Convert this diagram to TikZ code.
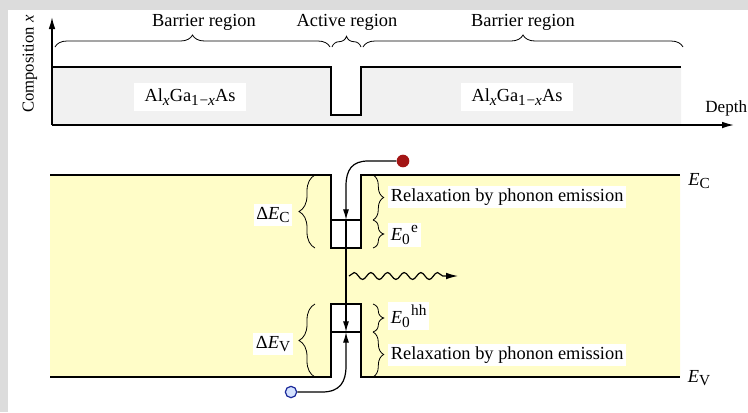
\documentclass[tikz,border=0pt]{standalone}
\usepackage{fontspec}
\setmainfont{Liberation Serif}
\usetikzlibrary{decorations.pathreplacing,decorations.pathmorphing,arrows.meta}
\definecolor{bordergray}{HTML}{DCDCDC}
\definecolor{topfill}{HTML}{F1F1F1}
\definecolor{bandfill}{HTML}{FFFDC8}
\definecolor{elecred}{HTML}{A31515}
\definecolor{holeblue}{HTML}{1C2A9A}
\definecolor{holefill}{HTML}{D4E2FF}
\newcommand{\sbs}[1]{\raisebox{-0.45ex}{\fontsize{11.5}{11}\selectfont #1}}
\newcommand{\sps}[1]{\raisebox{1.0ex}{\fontsize{11.5}{11}\selectfont\kern1pt #1}}
\begin{document}
\begin{tikzpicture}[x=0.75pt,y=-0.75pt,
  font=\fontsize{13.8}{16}\selectfont,
  band/.style={line width=1.1pt},
  axis/.style={line width=1.1pt,-{Latex[length=9pt,width=5pt]}},
  brc/.style={line width=0.6pt,decorate,decoration={brace,amplitude=#1}},
  brc/.default=8pt,
  lbl/.style={fill=white,inner sep=2pt},
  carrier/.style={line width=0.9pt,-{Latex[length=8pt,width=4.5pt]}}]
\useasboundingbox (0,0) rectangle (748,412);
\fill[bordergray] (0,0) rectangle (748,412);
\fill[white] (8,10) rectangle (748,412);

% ---------- top panel ----------
\fill[topfill] (52,67) -- (331,67) -- (331,115) -- (361,115) -- (361,67) -- (681,67) -- (681,125) -- (52,125) -- cycle;
\draw[band] (52,67) -- (331,67) -- (331,115) -- (361,115) -- (361,67) -- (681,67);
\coordinate (origin) at (52,125);
\coordinate (ytip) at (52,17);
\coordinate (xtip) at (734,125);
\draw[axis] (origin) -- (ytip);
\draw[axis] (origin) -- (xtip);
\node[rotate=90,font=\fontsize{12.5}{14}\selectfont] (comp) at (30,64) {Composition \textit{x}};
\node[anchor=east,font=\fontsize{12.8}{15}\selectfont,inner xsep=0.5pt] (depth) at (748,108) {Depth};

\draw[brc=9pt] (55,47) -- (330,47);
\draw[brc=8pt] (332,47) -- (361,47);
\draw[brc=9pt] (363,47) -- (683,47);
\node[anchor=base] (bar1) at (204,26) {Barrier region};
\node[anchor=base] (act) at (347,26) {Active region};
\node[anchor=base] (bar2) at (523,26) {Barrier region};

\node[lbl,inner xsep=8pt,inner ysep=4pt] (mat1) at (190,97) {Al\sbs{\textit{x}}Ga\sbs{1\kern0.5pt−\textit{x}}As};
\node[lbl,inner xsep=8pt,inner ysep=4pt] (mat2) at (517,97) {Al\sbs{\textit{x}}Ga\sbs{1\kern0.5pt−\textit{x}}As};

% ---------- bottom panel ----------
\fill[bandfill] (50,175) -- (331,175) -- (331,248) -- (361,248) -- (361,175) -- (680,175)
  -- (680,377) -- (361,377) -- (361,304) -- (331,304) -- (331,377) -- (50,377) -- cycle;
\draw[band] (50,175) -- (331,175) -- (331,248) -- (361,248) -- (361,175) -- (680,175);
\draw[band] (50,377) -- (331,377) -- (331,304) -- (361,304) -- (361,377) -- (680,377);
\draw[band] (331,220) -- (361,220);
\draw[band] (331,332) -- (361,332);
\coordinate (elev) at (346,220);
\coordinate (hlev) at (346,332);

\node (EC) at (699,181) {\textit{E}\sbs{C}};
\node (EV) at (699,378) {\textit{E}\sbs{V}};

% braces
\draw[brc=12pt] (315,248) -- (315,175);
\draw[brc=12pt] (315,377) -- (315,304);
\draw[brc=8pt] (373,175) -- (373,220);
\draw[brc=8pt] (373,220) -- (373,248);
\draw[brc=8pt] (373,304) -- (373,332);
\draw[brc=8pt] (373,332) -- (373,377);

\node[lbl] (dEC) at (273,215) {Δ\textit{E}\sbs{C}};
\node[lbl] (dEV) at (273,344) {Δ\textit{E}\sbs{V}};
\node[lbl,anchor=west] (relc) at (388,197) {Relaxation by phonon emission};
\node[lbl,anchor=west] (e0e) at (388,235) {\textit{E}\sbs{0}\sps{e}};
\node[lbl,anchor=west] (e0h) at (388,316) {\textit{E}\sbs{0}\sps{hh}};
\node[lbl,anchor=west] (relv) at (388,355) {Relaxation by phonon emission};

% carriers
\node[circle,fill=elecred,inner sep=0pt,minimum size=9.5pt] (el) at (403,161) {};
\node[circle,draw=holeblue,fill=holefill,line width=0.9pt,inner sep=0pt,minimum size=8.5pt] (ho) at (291,392) {};
\draw[carrier] (el.west) -- (368,161) .. controls (352,161) and (346,170) .. (346,186) -- (elev);
\draw[carrier] (elev) -- (hlev);
\draw[carrier] (ho.east) -- (322,392) .. controls (340,392) and (346,382) .. (346,366) -- (hlev);

% photon
\coordinate (ph0) at (349,276);
\coordinate (ph1) at (458,276);
\draw[line width=0.9pt,-{Latex[length=9pt,width=5pt]},decorate,
  decoration={snake,amplitude=2.6pt,segment length=12.5pt,post length=9pt}] (ph0) -- (ph1);
\end{tikzpicture}
\end{document}
